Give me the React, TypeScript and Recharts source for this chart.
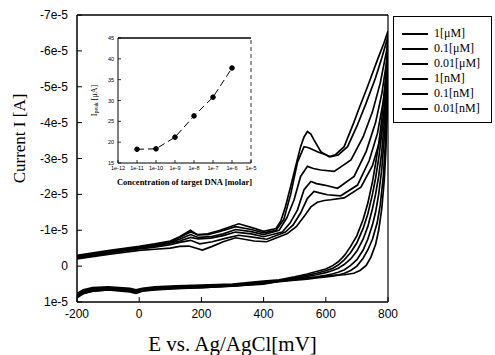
import { LineChart, Line, XAxis, YAxis, ReferenceLine, Legend } from 'recharts';

// Current values are in units of 1e-5 A, potentials in mV. [E, I] pairs, forward scan then reverse scan.
const names = ['1[μM]', '0.1[μM]', '0.01[μM]', '1[nM]', '0.1[nM]', '0.01[nM]'];

const c1Forward: [number, number][] = [
  [-200, -0.3], [-100, -0.43], [0, -0.55], [50, -0.62], [100, -0.7], [130, -0.82], [165, -1.0], [187, -0.87],
  [220, -0.9], [260, -1.0], [320, -1.18], [360, -1.08], [400, -0.97], [440, -1.05], [455, -1.25], [470, -1.65],
  [487, -2.22], [505, -2.85], [519, -3.33], [530, -3.6], [541, -3.75], [552, -3.68], [562, -3.52], [584, -3.19],
  [611, -3.05], [630, -3.1], [659, -3.33], [690, -4.0], [705, -4.35], [734, -5.0], [766, -5.75], [787, -6.22], [800, -6.55],
];
const c1Reverse: [number, number][] = [
  [795, -5.6], [790, -5.0], [780, -4.1], [770, -3.4], [760, -2.85], [750, -2.35], [735, -1.75], [720, -1.3],
  [700, -0.85], [680, -0.55], [660, -0.3], [640, -0.12], [620, 0.0], [600, 0.08], [570, 0.15], [540, 0.22],
  [500, 0.3], [450, 0.38], [400, 0.42], [350, 0.46], [300, 0.5], [200, 0.53], [120, 0.55], [50, 0.58], [10, 0.62],
  [-10, 0.66], [-30, 0.62], [-100, 0.58], [-150, 0.6], [-180, 0.66], [-200, 0.76],
];

const c2Forward: [number, number][] = [
  [-200, -0.28], [-100, -0.41], [0, -0.53], [50, -0.6], [100, -0.68], [130, -0.8], [165, -0.95], [187, -0.88],
  [220, -0.88], [260, -0.97], [310, -1.1], [360, -1.02], [400, -0.93], [440, -1.0], [465, -1.3], [487, -2.0],
  [509, -2.9], [530, -3.33], [545, -3.3], [573, -3.19], [616, -3.05], [640, -3.1], [670, -3.33], [700, -3.9],
  [730, -4.55], [760, -5.25], [780, -5.8], [800, -6.4],
];
const c2Reverse: [number, number][] = [
  [795, -5.3], [790, -4.6], [780, -3.7], [770, -3.0], [760, -2.45], [750, -2.0], [735, -1.45], [720, -1.05],
  [700, -0.65], [680, -0.38], [660, -0.18], [640, -0.03], [620, 0.07], [600, 0.13], [570, 0.2], [540, 0.26],
  [500, 0.33], [450, 0.4], [400, 0.44], [350, 0.48], [300, 0.52], [200, 0.55], [120, 0.57], [50, 0.6], [10, 0.64],
  [-10, 0.68], [-30, 0.65], [-100, 0.6], [-150, 0.63], [-180, 0.7], [-200, 0.8],
];

const c3Forward: [number, number][] = [
  [-200, -0.26], [-100, -0.4], [0, -0.52], [50, -0.58], [100, -0.66], [130, -0.75], [165, -0.88], [190, -0.8],
  [230, -0.82], [270, -0.9], [310, -1.02], [360, -0.96], [400, -0.88], [450, -1.0], [475, -1.35], [498, -1.85],
  [519, -2.5], [541, -2.78], [560, -2.72], [584, -2.68], [627, -2.64], [681, -2.96], [720, -3.6], [750, -4.3],
  [775, -5.1], [800, -6.2],
];
const c3Reverse: [number, number][] = [
  [795, -5.0], [790, -4.2], [780, -3.2], [770, -2.5], [760, -2.0], [750, -1.6], [735, -1.1], [720, -0.75],
  [700, -0.42], [680, -0.2], [660, -0.05], [640, 0.06], [620, 0.13], [600, 0.18], [570, 0.24], [540, 0.29],
  [500, 0.35], [450, 0.41], [400, 0.46], [350, 0.5], [300, 0.53], [200, 0.57], [120, 0.6], [50, 0.62], [10, 0.66],
  [-10, 0.72], [-30, 0.68], [-100, 0.62], [-150, 0.65], [-180, 0.72], [-200, 0.82],
];

const c4Forward: [number, number][] = [
  [-200, -0.24], [-100, -0.38], [0, -0.5], [50, -0.56], [100, -0.64], [130, -0.7], [165, -0.8], [190, -0.76],
  [230, -0.78], [270, -0.85], [310, -0.95], [360, -0.9], [400, -0.82], [460, -0.95], [485, -1.2], [509, -1.57],
  [530, -2.13], [552, -2.36], [570, -2.3], [595, -2.26], [638, -2.17], [691, -2.5], [730, -3.2], [760, -4.0],
  [780, -4.8], [800, -5.95],
];
const c4Reverse: [number, number][] = [
  [795, -4.7], [790, -3.8], [780, -2.7], [770, -2.0], [760, -1.5], [750, -1.15], [735, -0.75], [720, -0.45],
  [700, -0.18], [680, -0.02], [660, 0.1], [640, 0.17], [620, 0.22], [600, 0.26], [570, 0.3], [540, 0.33],
  [500, 0.37], [450, 0.42], [400, 0.47], [350, 0.51], [300, 0.55], [200, 0.58], [120, 0.61], [50, 0.64], [10, 0.68],
  [-10, 0.72], [-30, 0.68], [-100, 0.64], [-150, 0.68], [-180, 0.75], [-200, 0.85],
];

const c5Forward: [number, number][] = [
  [-200, -0.22], [-100, -0.36], [0, -0.48], [50, -0.53], [100, -0.6], [130, -0.66], [165, -0.72], [195, -0.62],
  [235, -0.68], [280, -0.78], [320, -0.86], [370, -0.8], [410, -0.75], [470, -0.95], [495, -1.15], [519, -1.48],
  [541, -1.89], [562, -2.08], [580, -2.04], [605, -1.99], [648, -1.96], [702, -2.26], [740, -2.95], [766, -3.7],
  [785, -4.6], [800, -5.7],
];
const c5Reverse: [number, number][] = [
  [796, -4.4], [792, -3.5], [785, -2.5], [775, -1.7], [765, -1.2], [750, -0.75], [735, -0.45], [720, -0.22],
  [700, 0.0], [680, 0.12], [660, 0.2], [640, 0.25], [620, 0.28], [600, 0.3], [570, 0.33], [540, 0.36],
  [500, 0.39], [450, 0.43], [400, 0.48], [350, 0.52], [300, 0.56], [200, 0.6], [120, 0.63], [50, 0.66], [10, 0.7],
  [-10, 0.76], [-30, 0.72], [-100, 0.66], [-150, 0.7], [-180, 0.77], [-200, 0.88],
];

const c6Forward: [number, number][] = [
  [-200, -0.2], [-100, -0.33], [0, -0.44], [50, -0.47], [100, -0.5], [130, -0.55], [160, -0.56], [203, -0.45],
  [235, -0.55], [270, -0.68], [310, -0.79], [370, -0.7], [410, -0.68], [475, -0.9], [505, -1.1], [530, -1.38],
  [552, -1.65], [573, -1.78], [595, -1.83], [616, -1.85], [659, -1.9], [713, -2.2], [750, -2.8], [777, -3.6],
  [790, -4.4], [800, -5.5],
];
const c6Reverse: [number, number][] = [
  [797, -4.2], [793, -3.2], [788, -2.4], [780, -1.6], [770, -1.0], [760, -0.6], [745, -0.25], [730, -0.02],
  [710, 0.12], [690, 0.2], [660, 0.24], [620, 0.26], [580, 0.3], [530, 0.35], [450, 0.42], [400, 0.5],
  [300, 0.55], [200, 0.6], [100, 0.62], [30, 0.66], [0, 0.7], [-50, 0.68], [-100, 0.66], [-150, 0.7], [-200, 0.8],
];

const xTicks = [-200, 0, 200, 400, 600, 800];
const yTicks = [-7, -6, -5, -4, -3, -2, -1, 0, 1];

// inset: peak current vs concentration
const insetConc = [1e-11, 1e-10, 1e-9, 1e-8, 1e-7, 1e-6];
const insetPeak = [18.3, 18.4, 21.2, 26.3, 30.8, 37.8];
const insetXTicks = [1e-12, 1e-11, 1e-10, 1e-9, 1e-8, 1e-7, 1e-6, 1e-5];
const insetYTicks = [15, 20, 25, 30, 35, 40, 45];

const loops = [
  [c1Forward, c1Reverse],
  [c2Forward, c2Reverse],
  [c3Forward, c3Reverse],
  [c4Forward, c4Reverse],
  [c5Forward, c5Reverse],
  [c6Forward, c6Reverse],
].map(([f, r]) => [...f, ...r].map(([x, y]) => ({ x, y })));

const insetData = insetConc.map((c, i) => ({ c, ip: insetPeak[i] }));

const SANS = 'Liberation Sans, Arial, sans-serif';
const SERIF = 'Liberation Serif, Times New Roman, serif';

const fmtCurrent = (v: number) => (v === 0 ? '0' : `${v}e-5`);
const fmtConc = (v: number) => `1e${Math.round(Math.log10(v))}`;

function MainXTick({ x, y, payload }: any) {
  return (
    <g>
      <line x1={x} y1={y} x2={x} y2={y - 5} stroke="#000" />
      <text x={x} y={y + 16} textAnchor="middle" fontSize={12} fontFamily={SANS} fill="#000">
        {payload.value}
      </text>
    </g>
  );
}

function MainYTick({ x, y, payload }: any) {
  return (
    <g>
      <line x1={x} y1={y} x2={x + 5} y2={y} stroke="#000" />
      <text x={x - 9} y={y + 4} textAnchor="end" fontSize={12} fontFamily={SANS} fill="#000">
        {fmtCurrent(payload.value)}
      </text>
    </g>
  );
}

function InsetXTick({ x, y, payload }: any) {
  return (
    <g>
      <line x1={x} y1={y} x2={x} y2={y - 3} stroke="#000" strokeWidth={0.8} />
      <text x={x} y={y + 7} textAnchor="middle" fontSize={5.5} fontFamily={SANS} fill="#000">
        {fmtConc(payload.value)}
      </text>
    </g>
  );
}

function InsetYTick({ x, y, payload }: any) {
  return (
    <g>
      <line x1={x} y1={y} x2={x + 3} y2={y} stroke="#000" strokeWidth={0.8} />
      <text x={x - 4} y={y + 2} textAnchor="end" fontSize={5.5} fontFamily={SANS} fill="#000">
        {payload.value}
      </text>
    </g>
  );
}

function LegendBox({ payload }: any) {
  return (
    <div
      style={{
        border: '1px solid #000',
        background: '#fff',
        width: 99,
        height: 107,
        boxSizing: 'border-box',
        padding: '9px 0 0 8px',
      }}
    >
      {(payload || []).map((p: any) => (
        <div key={p.value} style={{ display: 'flex', alignItems: 'center', height: 15 }}>
          <svg width={26} height={4}>
            <line x1={0} y1={2} x2={26} y2={2} stroke="#000" strokeWidth={2} />
          </svg>
          <span style={{ marginLeft: 6, fontFamily: SERIF, fontSize: 12, color: '#000' }}>{p.value}</span>
        </div>
      ))}
    </div>
  );
}

export default function App() {
  return (
    <div style={{ position: 'absolute', left: 0, top: 0, width: 495, height: 355, background: '#fff' }}>
      <LineChart width={495} height={355} margin={{ top: 15, right: 107, left: 17, bottom: 0 }}>
        <XAxis
          type="number"
          dataKey="x"
          domain={[-200, 800]}
          ticks={xTicks}
          interval={0}
          height={53}
          tickSize={0}
          tickMargin={0}
          tickLine={false}
          tick={<MainXTick />}
          axisLine={{ stroke: '#000', strokeWidth: 1.5 }}
          allowDataOverflow
          label={{
            value: 'E vs. Ag/AgCl[mV]',
            position: 'insideBottom',
            offset: 4,
            style: { fontFamily: SERIF, fontSize: 21, fill: '#000' },
          }}
        />
        <YAxis
          type="number"
          domain={[-7, 1]}
          reversed
          ticks={yTicks}
          interval={0}
          width={60}
          tickSize={0}
          tickMargin={0}
          tickLine={false}
          tick={<MainYTick />}
          axisLine={{ stroke: '#000', strokeWidth: 1.5 }}
          allowDataOverflow
          label={{
            content: ({ viewBox }: any) => (
              <text
                x={viewBox.x + 2}
                y={viewBox.y + viewBox.height / 2 - 20}
                transform={`rotate(-90, ${viewBox.x + 2}, ${viewBox.y + viewBox.height / 2 - 20})`}
                textAnchor="middle"
                dominantBaseline="central"
                fontFamily={SERIF}
                fontSize={17}
                fill="#000"
              >
                Current I [A]
              </text>
            ),
          }}
        />
        <ReferenceLine y={-7} stroke="#000" strokeWidth={1.5} />
        <ReferenceLine x={800} stroke="#000" strokeWidth={1.2} />
        {loops.map((d, i) => (
          <Line
            key={names[i]}
            data={d}
            dataKey="y"
            name={names[i]}
            type="linear"
            stroke="#000"
            strokeWidth={1.7}
            dot={false}
            isAnimationActive={false}
          />
        ))}
        <Legend
          layout="vertical"
          align="center"
          verticalAlign="middle"
          itemSorter={(item: any) => names.indexOf(item.value)}
          wrapperStyle={{ left: 393, top: 16, width: 99, height: 107 }}
          content={<LegendBox />}
        />
      </LineChart>

      <div style={{ position: 'absolute', left: 80, top: 25 }}>
        <LineChart width={180} height={170} data={insetData} margin={{ top: 13, right: 9, left: 18, bottom: 2 }}>
          <XAxis
            type="number"
            dataKey="c"
            scale="log"
            domain={[1e-12, 1e-5]}
            ticks={insetXTicks}
            interval={0}
            height={30}
            tickSize={0}
            tickMargin={0}
            tickLine={false}
            tick={<InsetXTick />}
            axisLine={{ stroke: '#000', strokeWidth: 1 }}
            allowDataOverflow
            label={{
              value: 'Concentration of target DNA [molar]',
              position: 'insideBottom',
              offset: 8,
              style: { fontFamily: SERIF, fontSize: 8.5, fontWeight: 'bold', fill: '#000' },
            }}
          />
          <YAxis
            type="number"
            domain={[15, 45]}
            ticks={insetYTicks}
            interval={0}
            width={20}
            tickSize={0}
            tickMargin={0}
            tickLine={false}
            tick={<InsetYTick />}
            axisLine={{ stroke: '#000', strokeWidth: 1 }}
            allowDataOverflow
            label={{
              content: ({ viewBox }: any) => {
                const cx = viewBox.x - 4;
                const cy = viewBox.y + viewBox.height / 2;
                return (
                  <text
                    x={cx}
                    y={cy}
                    transform={`rotate(-90, ${cx}, ${cy})`}
                    textAnchor="middle"
                    dominantBaseline="central"
                    fontFamily={SERIF}
                    fontSize={8}
                    fill="#000"
                  >
                    <tspan>I</tspan>
                    <tspan fontSize={6} dy={2}>peak</tspan>
                    <tspan dy={-2}> [μA]</tspan>
                  </text>
                );
              },
            }}
          />
          <ReferenceLine y={45} stroke="#000" strokeWidth={1.5} />
          <ReferenceLine x={1e-5} stroke="#000" strokeWidth={0.8} strokeDasharray="4 3" />
          <Line
            dataKey="ip"
            type="linear"
            stroke="#000"
            strokeWidth={1}
            strokeDasharray="7 4"
            dot={{ r: 2.3, fill: '#000', stroke: '#000', strokeDasharray: '' }}
            isAnimationActive={false}
          />
        </LineChart>
      </div>
    </div>
  );
}
